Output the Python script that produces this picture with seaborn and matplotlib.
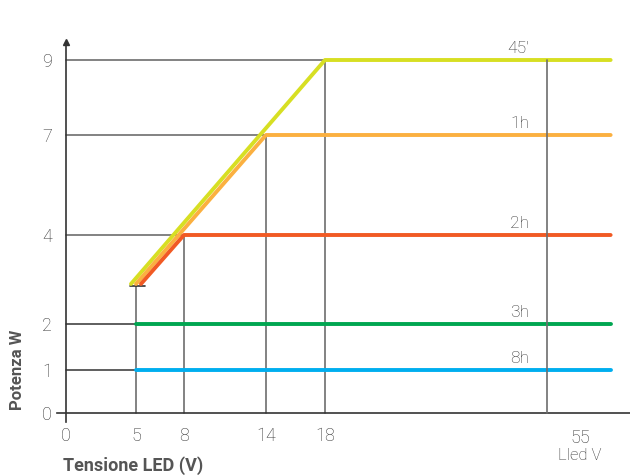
import numpy as np
import matplotlib
matplotlib.use("Agg")
import matplotlib.pyplot as plt
import seaborn as sns

# data
labels = ["45'", "1h", "2h", "3h", "8h"]
power_w = [9, 7, 4, 2, 1]
knee_v = [18, 14, 8, 5, 5]
start_v = [4.64, 5.0, 5.31, 5, 5]
start_w = [2.9, 2.9, 2.9, 2, 1]
end_v = 59.6
colors = ["#d7df23", "#fbb040", "#f15a24", "#00a651", "#00aeef"]
x_ticks = [0, 5, 8, 14, 18]
y_ticks = [0, 1, 2, 4, 7, 9]
min_v = 5
min_w = 2.85
max_v = 55

# schematic (non linear) axis scales
xk = np.array([-1, 0, 5, 8, 14, 18, 55, 61])
xp = np.array([52, 66, 136, 184, 266, 325, 547, 630])
yk = np.array([-1, 0, 1, 2, 4, 7, 9, 11])
yp = np.array([19, 62, 105, 151, 240, 340, 415, 490])

def fx(v): return np.interp(v, xk, xp)
def ix(p): return np.interp(p, xp, xk)
def fy(v): return np.interp(v, yk, yp)
def iy(p): return np.interp(p, yp, yk)

sns.set_theme(style="white")
plt.rcParams["font.family"] = ["Roboto", "DejaVu Sans"]

fig = plt.figure(figsize=(6.3, 4.75), dpi=100)
ax = fig.add_axes([57 / 630, 53 / 475, 573 / 630, 380 / 475])
ax.set_xscale("function", functions=(fx, ix))
ax.set_yscale("function", functions=(fy, iy))
ax.set_xlim(ix(57), ix(630))
ax.set_ylim(iy(53), iy(433))

grey = "#6d6d6d"
# reference lines
for v, w in zip(knee_v[:3], power_w[:3]):
    ax.plot([0, v], [w, w], color=grey, lw=1.2, zorder=1)
    ax.plot([v, v], [0, w], color=grey, lw=1.2, zorder=1)
for w in power_w[3:]:
    ax.plot([0, min_v], [w, w], color="#333333", lw=1.1, zorder=1)
ax.plot([min_v, min_v], [0, min_w], color=grey, lw=1.2, zorder=1)
ax.plot([4.55, 5.55], [min_w, min_w], color="#333333", lw=1.2, zorder=1)
ax.plot([max_v, max_v], [0, power_w[0]], color=grey, lw=1.2, zorder=3)

# curves
for lab, w, kv, sv, sw, c in zip(labels, power_w, knee_v, start_v, start_w, colors):
    if sw < w:
        xs = [sv, kv, end_v]
        ys = [sw, w, w]
    else:
        xs = [kv, end_v]
        ys = [w, w]
    sns.lineplot(x=xs, y=ys, ax=ax, color=c, lw=2.8, sort=False,
                 estimator=None, zorder=2)
    ax.annotate(lab, (max_v, w), xytext=(-13, 3), textcoords="offset points",
                ha="right", va="bottom", fontsize=12.5, color="#333333",
                fontweight="light")

# axes
for s in ["top", "right"]:
    ax.spines[s].set_visible(False)
ax.spines["left"].set_position(("data", 0))
ax.spines["bottom"].set_position(("data", 0))
ax.spines["left"].set_color("#333333")
ax.spines["bottom"].set_color("#333333")
ax.spines["left"].set_linewidth(1.2)
ax.spines["bottom"].set_linewidth(1.2)
ax.plot(0, 1, marker="^", ms=4, color="#333333", transform=ax.get_xaxis_transform(),
        clip_on=False)

ax.set_xticks(x_ticks)
ax.set_xticklabels([str(t) for t in x_ticks])
ax.set_yticks(y_ticks)
ax.set_yticklabels([str(t) for t in y_ticks])
ax.tick_params(axis="both", length=0, labelsize=13, labelcolor="#333333")
ax.tick_params(axis="y", pad=10)
ax.tick_params(axis="x", pad=10)
for t in ax.get_xticklabels() + ax.get_yticklabels():
    t.set_fontweight("light")

fig.text(580 / 630, 1 - 438 / 475, "55", ha="center", va="center", fontsize=13,
         color="#333333", fontweight="light")
fig.text(580 / 630, 1 - 456 / 475, "Lled V", ha="center", va="center", fontsize=12,
         color="#333333", fontweight="light")
fig.text(63 / 630, 1 - 466 / 475, "Tensione LED (V)", ha="left", va="center",
         fontsize=13, fontweight="bold", color="#555555")
fig.text(18 / 630, 1 - 410 / 475, "Potenza W", ha="center", va="bottom",
         rotation=90, fontsize=12, fontweight="bold", color="#555555")

fig.savefig("out.png", dpi=100)
